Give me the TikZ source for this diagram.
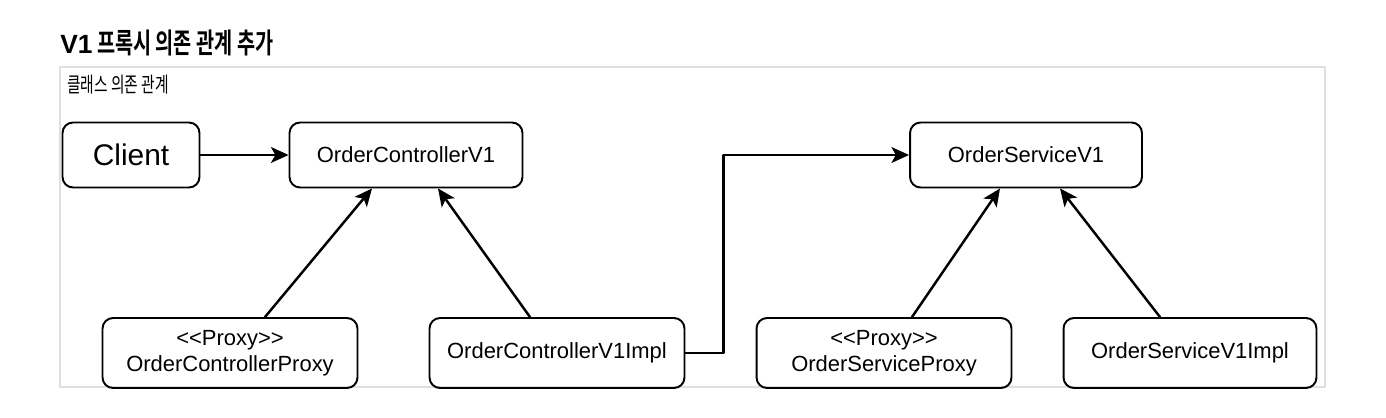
\documentclass[tikz,border=0pt]{standalone}
\usepackage{fontspec}
\setmainfont{Liberation Sans}
\newfontfamily\krfont{Noto Sans CJK KR}[FakeStretch=0.7,BoldFont={Noto Sans CJK KR Bold}]
\usetikzlibrary{arrows.meta,calc}
\tikzset{
  cls/.style={draw, line width=1.1pt, rounded corners=6pt, align=center, inner sep=0pt,
    font=\fontsize{12.5pt}{15pt}\selectfont},
  dep/.style={line width=1.4pt, -{Stealth[length=10pt,width=9pt,inset=2.5pt]}}
}
\begin{document}
\begin{tikzpicture}[x=0.02cm, y=-0.02cm, line join=round, line cap=round]
  % Hintergrund und Rahmen (Pixelkoordinaten)
  \fill[white] (0,0) rectangle (1386,418);
  \useasboundingbox (0,0) rectangle (1386,418);
  \draw[gray!25, line width=1.2pt] (60,67) rectangle (1325,387);
  \node[anchor=west, inner sep=0pt] (title) at (60,43) {\bfseries\fontsize{15pt}{19pt}\selectfont V1\krfont\fontsize{16pt}{19pt}\selectfont{} 프록시 의존 관계 추가};
  \node[anchor=west, inner sep=0pt] (sub) at (67,85) {\krfont\fontsize{12pt}{14pt}\selectfont 클래스 의존 관계};

  % Klassen
  \node[cls, minimum width=2.74cm, minimum height=1.3cm, font=\fontsize{17pt}{20pt}\selectfont] (client) at (131,155) {Client};
  \node[cls, minimum width=4.66cm, minimum height=1.3cm] (ctrl) at (406,155) {OrderControllerV1};
  \node[cls, minimum width=4.64cm, minimum height=1.3cm] (svc) at (1026,155) {OrderServiceV1};
  \node[cls, minimum width=5.1cm, minimum height=1.4cm] (cproxy) at (230,353) {<{}<Proxy>{}>\\OrderControllerProxy};
  \node[cls, minimum width=5.1cm, minimum height=1.4cm] (cimpl) at (557,353) {OrderControllerV1Impl};
  \node[cls, minimum width=5.1cm, minimum height=1.4cm] (sproxy) at (884,353) {<{}<Proxy>{}>\\OrderServiceProxy};
  \node[cls, minimum width=5.06cm, minimum height=1.4cm] (simpl) at (1190,353) {OrderServiceV1Impl};

  % Abhaengigkeiten
  \draw[dep] (client) -- (ctrl);
  \draw[dep] ($(cproxy.north)+(35,0)$) -- ($(ctrl.south)+(-34,0)$);
  \draw[dep] ($(cimpl.north)+(-27,0)$) -- ($(ctrl.south)+(32,0)$);
  \draw[dep] (cimpl.east) -- ++(38,0) |- (svc.west);
  \draw[dep] ($(sproxy.north)+(28,0)$) -- ($(svc.south)+(-26,0)$);
  \draw[dep] ($(simpl.north)+(-30,0)$) -- ($(svc.south)+(34,0)$);
\end{tikzpicture}
\end{document}
